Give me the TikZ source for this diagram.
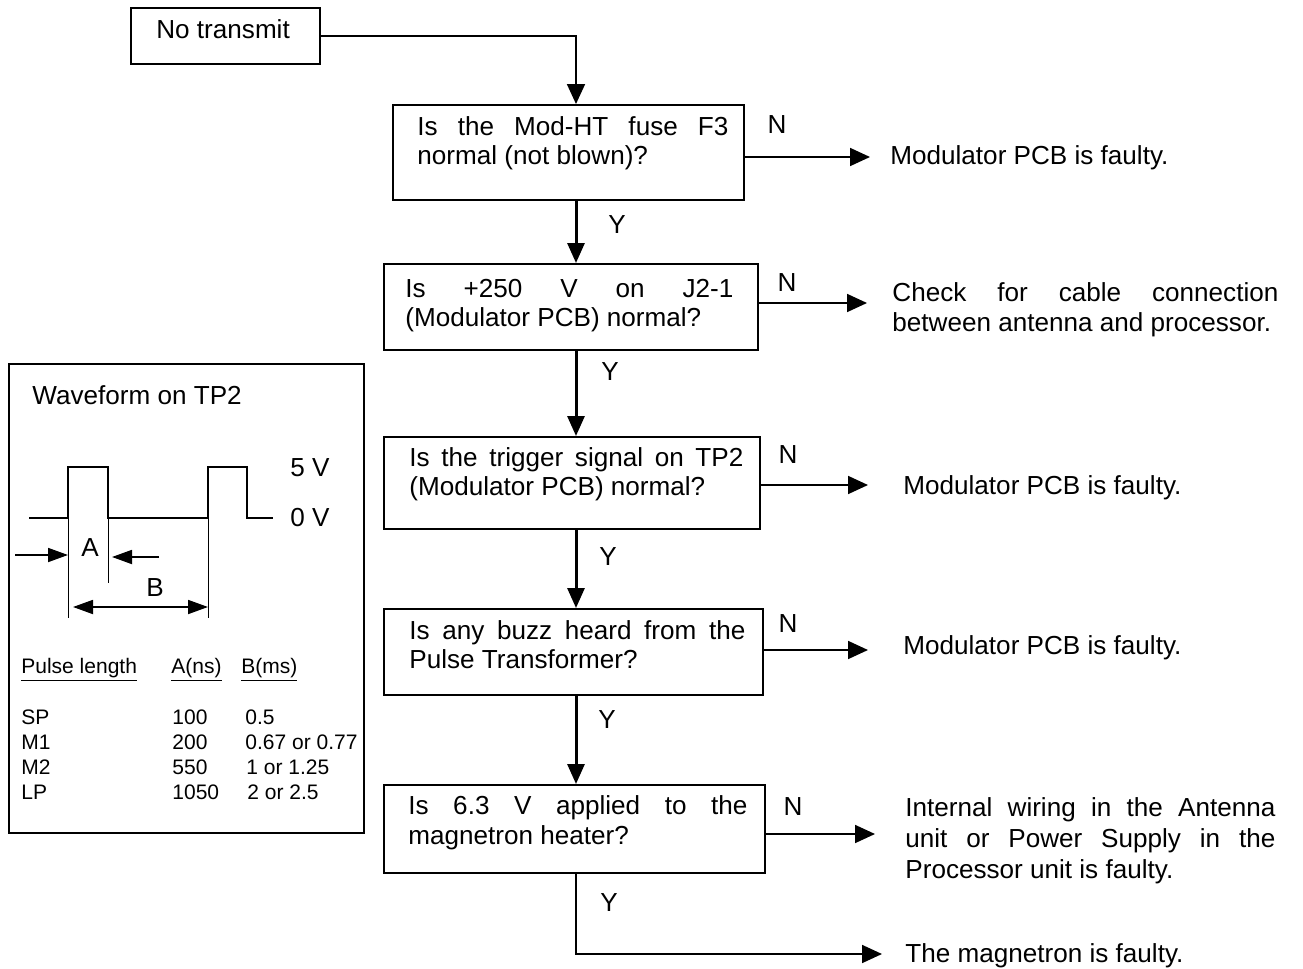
\documentclass[tikz,border=0pt]{standalone}
\usepackage{fontspec}
\setmainfont{Liberation Sans}
\usetikzlibrary{arrows.meta}
% one justified line of a given width
\newcommand{\jl}[1]{\makebox[\linewidth][s]{#1}}
\begin{document}
\begin{tikzpicture}[x=0.5pt,y=-0.5pt,
  every node/.style={inner sep=0pt, font=\fontsize{13.05pt}{14.5pt}\selectfont},
  box/.style={draw, line width=1pt, rectangle, anchor=north west},
  txt/.style={anchor=base west},
  lbl/.style={anchor=center},
  small/.style={anchor=base west, font=\fontsize{10.5pt}{12.5pt}\selectfont},
  flow/.style={line width=1.5pt, -{Triangle[length=10pt,width=8.5pt]}},
  branch/.style={line width=0.9pt, -{Triangle[length=10pt,width=9pt]}},
  wave/.style={line width=1.4pt},
  guide/.style={line width=0.5pt},
  dim/.style={line width=0.9pt, -{Triangle[length=10pt,width=7pt]}},
  dimboth/.style={line width=0.9pt, {Triangle[length=10pt,width=7pt]}-{Triangle[length=10pt,width=7pt]}}]
\useasboundingbox (0,0) rectangle (1303,969);

% ---------- flow chart boxes ----------
\node[box, minimum width=94.5pt,  minimum height=28pt]   (b0) at (130,7)   {};
\node[box, minimum width=175.5pt, minimum height=47.5pt] (b1) at (392,104) {};
\node[box, minimum width=187pt,   minimum height=43pt]   (b2) at (383,263) {};
\node[box, minimum width=188pt,   minimum height=46pt]   (b3) at (383,436) {};
\node[box, minimum width=189.5pt, minimum height=43pt]   (b4) at (383,608) {};
\node[box, minimum width=190.5pt, minimum height=44pt]   (b5) at (383,784) {};

% ---------- box texts ----------
\node[txt] (t0) at (156,39) {No transmit};
\node[txt] (t1) at (417,135) {\parbox[t]{155.5pt}{\jl{Is the Mod-HT fuse F3}\\normal (not blown)?}};
\node[txt] (t2) at (405,297) {\parbox[t]{164pt}{\jl{Is +250 V on J2-1}\\(Modulator PCB) normal?}};
\node[txt] (t3) at (409,466) {\parbox[t]{167pt}{\jl{Is the trigger signal on TP2}\\(Modulator PCB) normal?}};
\node[txt] (t4) at (409,639) {\parbox[t]{168pt}{\jl{Is any buzz heard from the}\\Pulse Transformer?}};
\node[txt, font=\fontsize{13.05pt}{15pt}\selectfont] (t5) at (408,814)
  {\parbox[t]{169.5pt}{\jl{Is 6.3 V applied to the}\\magnetron heater?}};

% ---------- outcomes ----------
\node[txt] (r1) at (890,164) {Modulator PCB is faulty.};
\node[txt, font=\fontsize{13.05pt}{15pt}\selectfont] (r2) at (892,301)
  {\parbox[t]{193pt}{\jl{Check for cable connection}\\between antenna and processor.}};
\node[txt] (r3) at (903,494) {Modulator PCB is faulty.};
\node[txt] (r4) at (903,654) {Modulator PCB is faulty.};
\node[txt, font=\fontsize{13.05pt}{15.5pt}\selectfont] (r5) at (905,816)
  {\parbox[t]{185pt}{\jl{Internal wiring in the Antenna}\\\jl{unit or Power Supply in the}\\Processor unit is faulty.}};
\node[txt] (r6) at (905,962) {The magnetron is faulty.};

% ---------- connector ends ----------
\coordinate (spine) at (576,0);
\coordinate (e1) at (870,157);
\coordinate (e2) at (867,303);
\coordinate (e3) at (868,485);
\coordinate (e4) at (868,650);
\coordinate (e5) at (875,834);
\coordinate (e6) at (882,954);

% ---------- connectors ----------
\draw[branch] (b0.east) -| (b1.north -| spine);
\draw[flow] (b1.south -| spine) -- (b2.north -| spine);
\draw[flow] (b2.south -| spine) -- (b3.north -| spine);
\draw[flow] (b3.south -| spine) -- (b4.north -| spine);
\draw[flow] (b4.south -| spine) -- (b5.north -| spine);
\draw[branch] (b5.south -| spine) |- (e6);
\draw[branch] (b1.east |- e1) -- (e1);
\draw[branch] (b2.east |- e2) -- (e2);
\draw[branch] (b3.east |- e3) -- (e3);
\draw[branch] (b4.east |- e4) -- (e4);
\draw[branch] (b5.east |- e5) -- (e5);

% ---------- branch labels ----------
\node[lbl] (n1) at (777,125) {N};
\node[lbl] (n2) at (787,283) {N};
\node[lbl] (n3) at (788,455) {N};
\node[lbl] (n4) at (788,624) {N};
\node[lbl] (n5) at (793,807) {N};
\node[lbl] (y1) at (617,225) {Y};
\node[lbl] (y2) at (610,372) {Y};
\node[lbl] (y3) at (608,557) {Y};
\node[lbl] (y4) at (607,720) {Y};
\node[lbl] (y5) at (609,903) {Y};

% ---------- waveform panel ----------
\node[box, minimum width=177.5pt, minimum height=234.5pt] (wb) at (8,363) {};
\node[txt] (wt) at (32,404) {Waveform on TP2};
\draw[wave] (29,518) -- (68,518) -- (68,467) -- (108,467) -- (108,518)
  -- (208,518) -- (208,467) -- (247,467) -- (247,518) -- (273,518);
\draw[guide] (68,518) -- (68,618);
\draw[guide] (108,518) -- (108,583);
\draw[guide] (208,518) -- (208,618);
\node[txt] (v5) at (290,476) {5 V};
\node[txt] (v0) at (290,526) {0 V};
\draw[dim] (15,555) -- (68,555);
\draw[dim] (159,557) -- (112,557);
\node[lbl] (la) at (90,548) {A};
\draw[dimboth] (73,607) -- (208,607);
\node[lbl] (lb) at (155,588) {B};

% ---------- pulse table ----------
\node[small] (h1) at (21,673)  {\underline{Pulse length}};
\node[small] (h2) at (171,673) {\underline{A(ns)}};
\node[small] (h3) at (241,673) {\underline{B(ms)}};
\node[small] (p1) at (21,724) {SP};
\node[small] (p2) at (21,749) {M1};
\node[small] (p3) at (21,774) {M2};
\node[small] (p4) at (21,799) {LP};
\node[small] (a1) at (172,724) {100};
\node[small] (a2) at (172,749) {200};
\node[small] (a3) at (172,774) {550};
\node[small] (a4) at (172,799) {1050};
\node[small] (c1) at (245,724) {0.5};
\node[small] (c2) at (245,749) {0.67 or 0.77};
\node[small] (c3) at (246,774) {1 or 1.25};
\node[small] (c4) at (247,799) {2 or 2.5};
\end{tikzpicture}
\end{document}
